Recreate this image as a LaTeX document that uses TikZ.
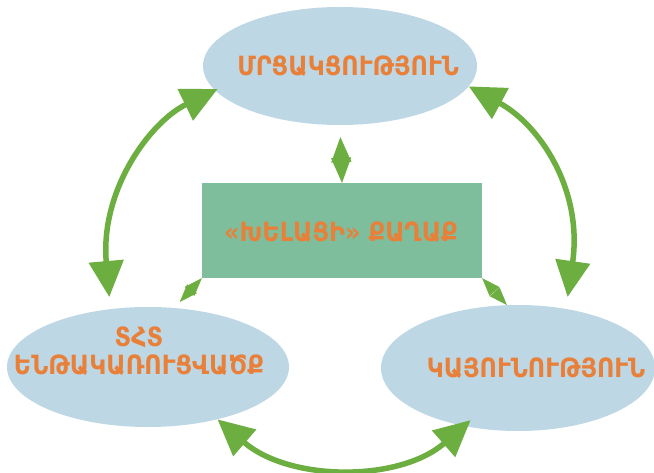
\documentclass[tikz,border=0pt]{standalone}
\usepackage{fontspec}
\setmainfont{DejaVu Sans Condensed}
\usetikzlibrary{arrows.meta,shapes.geometric}
\definecolor{bubble}{RGB}{189,215,229}
\definecolor{hub}{RGB}{126,190,156}
\definecolor{caption}{RGB}{233,128,58}
\definecolor{link}{RGB}{108,174,64}
\begin{document}
\begin{tikzpicture}[x=1pt,y=-1pt,
  topic/.style 2 args={ellipse, fill=bubble, draw=none, inner sep=0pt,
    minimum width=#1, minimum height=#2},
  word/.style={text=caption, font=\fontsize{26.5}{28}\selectfont\bfseries,
    inner sep=0pt, align=center},
  bigarrow/.style={draw=link, line width=5.5pt,
    {Triangle[length=36pt,width=34pt]}-{Triangle[length=36pt,width=34pt]}},
  tiny/.style 2 args={draw=link, fill=link, line width=0.5pt,
    {Triangle[length=#1,width=#2]}-{Triangle[length=#1,width=#2]}}]
\useasboundingbox (0,0) rectangle (654,473);
\fill[white] (0,0) rectangle (654,473);

% the three topics and the central hub
\node[topic={274pt}{118pt}] (top) at (340,66) {};
\node[topic={282pt}{120pt}] (bl)  at (148,367) {};
\node[topic={274pt}{126pt}] (br)  at (518,368) {};
\node[fill=hub, inner sep=0pt, minimum width=280pt, minimum height=95pt]
  (hub) at (342,230.5) {};

% captions
\node[word] (topt) at (348,66) {ՄՐՑԱԿՑՈՒԹՅՈՒՆ};
\node[word] (hubt) at (341,232) {«ԽԵԼԱՑԻ» ՔԱՂԱՔ};
\node[word] (blt)  at (139,351) {ՏՀՏ\\ԵՆԹԱԿԱՌՈՒՑՎԱԾՔ};
\node[word] (brt)  at (536,368) {ԿԱՅՈՒՆՈՒԹՅՈՒՆ};

% links between the topics
\draw[bigarrow, shorten >=12pt, shorten <=-3pt]
  (top.191) .. controls (150,122) and (100,190) .. (bl.123);
\draw[bigarrow, shorten >=12pt]
  (top.351) .. controls (540,125) and (583,190) .. (br.51);
\draw[bigarrow, shorten >=-9pt]
  (bl.323) .. controls (290,482) and (400,482) .. (br.227);

% links between the hub and the topics: heads overlap into a diamond
\draw[tiny={25pt}{20pt}, shorten <=12pt] (top.south) -- (hub.north);
\draw[tiny={18pt}{13pt}, shorten >=8pt] (hub.south west) -- (bl.66);
\draw[tiny={18pt}{13pt}] (hub.south east) -- (br.100);
\end{tikzpicture}
\end{document}
